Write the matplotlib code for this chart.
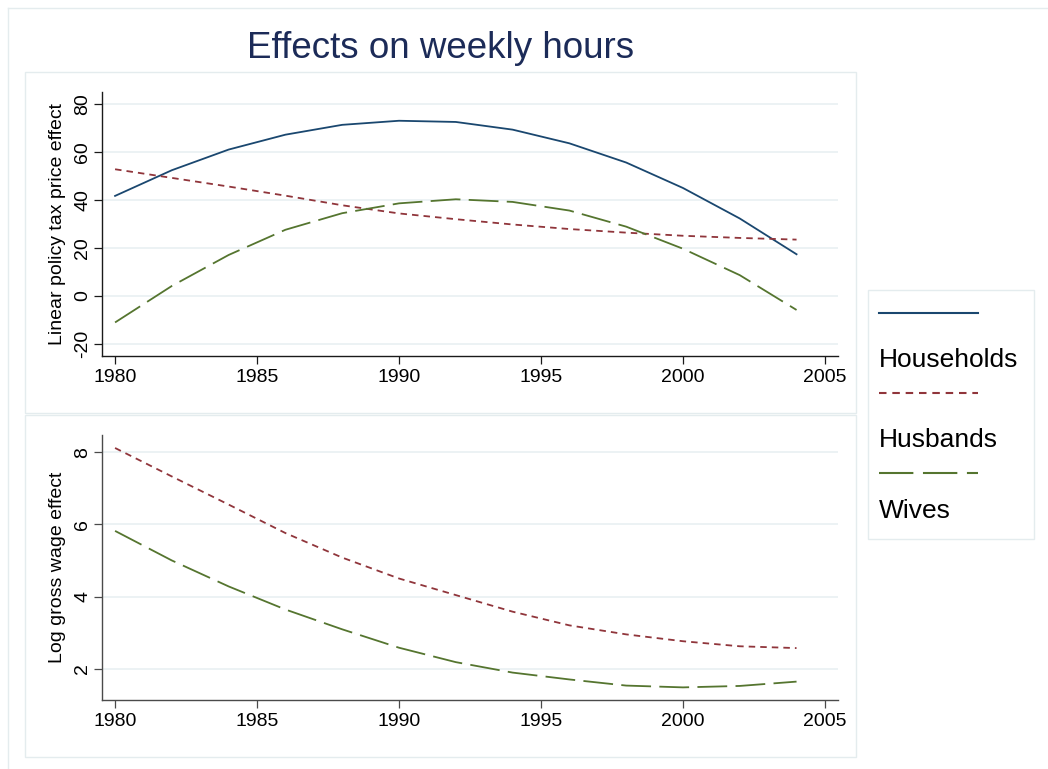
import matplotlib
matplotlib.use("Agg")
import matplotlib.pyplot as plt
from matplotlib.lines import Line2D
from matplotlib.patches import Rectangle

plt.rcParams['font.family'] = ['Liberation Sans', 'DejaVu Sans']

# ---- data -------------------------------------------------------------
years = [1980, 1982, 1984, 1986, 1988, 1990, 1992, 1994, 1996, 1998, 2000, 2002, 2004]

# Linear policy tax price effect
households_tax = [41.7, 52.4, 61.0, 67.2, 71.3, 73.0, 72.5, 69.3, 63.6, 55.6, 45.0, 32.3, 17.4]
husbands_tax = [52.8, 49.2, 45.6, 41.8, 37.8, 34.4, 32.0, 29.8, 27.9, 26.4, 25.1, 24.2, 23.5]
wives_tax = [-11.0, 4.2, 17.1, 27.6, 34.5, 38.6, 40.3, 39.2, 35.6, 28.9, 19.7, 8.7, -5.8]

# Log gross wage effect
husbands_wage = [8.12, 7.33, 6.55, 5.76, 5.08, 4.50, 4.04, 3.58, 3.20, 2.95, 2.76, 2.62, 2.57]
wives_wage = [5.82, 5.00, 4.28, 3.64, 3.09, 2.58, 2.18, 1.89, 1.70, 1.53, 1.48, 1.52, 1.64]

x_ticks = [1980, 1985, 1990, 1995, 2000, 2005]
top_ticks = [-20, 0, 20, 40, 60, 80]
bottom_ticks = [2, 4, 6, 8]

series_labels = ['Households', 'Husbands', 'Wives']

# ---- styles -----------------------------------------------------------
W, H = 1048, 769
NAVY = '#1a476f'
MAROON = '#90353b'
GREEN = '#55752f'
FRAME = '#e4ecee'
GRID = '#e9f0f2'
LW = 1.3
styles = {
    'Households': dict(color=NAVY, lw=LW, linestyle='-'),
    'Husbands': dict(color=MAROON, lw=LW, linestyle=(0, (3.6, 2.8))),
    'Wives': dict(color=GREEN, lw=LW, linestyle=(0, (16.5, 4.6))),
}

fig = plt.figure(figsize=(W / 100, H / 100), dpi=100)
fig.patch.set_facecolor('white')


def fx(px):
    return px / W


def fy(py):
    return 1 - py / H


def frame_box(x0, y0, x1, y1):
    fig.add_artist(Rectangle((fx(x0), fy(y1)), fx(x1) - fx(x0), fy(y0) - fy(y1),
                             transform=fig.transFigure, facecolor='none',
                             edgecolor=FRAME, lw=1.0, zorder=0))


# outer frame (left and top edges visible)
fig.add_artist(Line2D([fx(8.3), fx(8.3)], [0, fy(8.3)], transform=fig.transFigure,
                      color=FRAME, lw=1.0))
fig.add_artist(Line2D([fx(8.3), 1], [fy(8.3), fy(8.3)], transform=fig.transFigure,
                      color=FRAME, lw=1.0))

# panel boxes and legend box
frame_box(24.5, 71.5, 856, 413)
frame_box(24.5, 415.5, 856, 757)
frame_box(867.5, 290, 1034, 539)

fig.text(fx(440.5), fy(58.3), 'Effects on weekly hours', ha='center', va='baseline',
         fontsize=26.5, color='#1c2b58')

ax_left = fx(102)
ax_width = fx(838) - fx(102)
ax_top = fig.add_axes([ax_left, fy(356.3), ax_width, (356.3 - 91.7) / H])
ax_bot = fig.add_axes([ax_left, fy(700), ax_width, (700 - 435) / H])


def style_axes(ax, yticks, ylim, ylabel, label_y, spine_color):
    ax.set_xlim(1979.54, 2005.46)
    ax.set_ylim(*ylim)
    ax.set_xticks(x_ticks)
    ax.set_yticks(yticks)
    ax.set_xticklabels([str(t) for t in x_ticks])
    ax.set_yticklabels([str(t) for t in yticks], rotation=90, va='center')
    for s in ['top', 'right']:
        ax.spines[s].set_visible(False)
    for s in ['left', 'bottom']:
        ax.spines[s].set_color(spine_color)
        ax.spines[s].set_linewidth(1.0)
    ax.tick_params(axis='both', direction='out', length=5.5, width=0.9,
                   colors=spine_color, labelcolor='black', labelsize=14)
    ax.tick_params(axis='x', pad=3.5)
    ax.tick_params(axis='y', pad=2.2)
    ax.yaxis.grid(True, color=GRID, lw=1.2)
    ax.xaxis.grid(False)
    ax.set_axisbelow(True)
    ax.set_facecolor('none')
    fig.text(fx(57), fy(label_y), ylabel, rotation=90, ha='center', va='center',
             fontsize=14)


style_axes(ax_top, top_ticks, (-25.1, 85.1), 'Linear policy tax price effect', 224, '#1a1a1a')
style_axes(ax_bot, bottom_ticks, (1.13, 8.48), 'Log gross wage effect', 567.5, '#4a4a4a')

ax_top.plot(years, households_tax, **styles['Households'])
ax_top.plot(years, husbands_tax, **styles['Husbands'])
ax_top.plot(years, wives_tax, **styles['Wives'])

ax_bot.plot(years, husbands_wage, **styles['Husbands'])
ax_bot.plot(years, wives_wage, **styles['Wives'])

# legend: key line above each label
key_rows = [(312.7, 366.7), (393.3, 446.7), (472.7, 518.3)]
for name, (ky, ty) in zip(series_labels, key_rows):
    st = styles[name]
    fig.add_artist(Line2D([fx(879), fx(978)], [fy(ky), fy(ky)], transform=fig.transFigure,
                          color=st['color'], lw=1.5, linestyle=st['linestyle']))
    fig.text(fx(879), fy(ty), name, ha='left', va='baseline', fontsize=19, color='black')

fig.savefig('out.png', dpi=100, facecolor='white')
